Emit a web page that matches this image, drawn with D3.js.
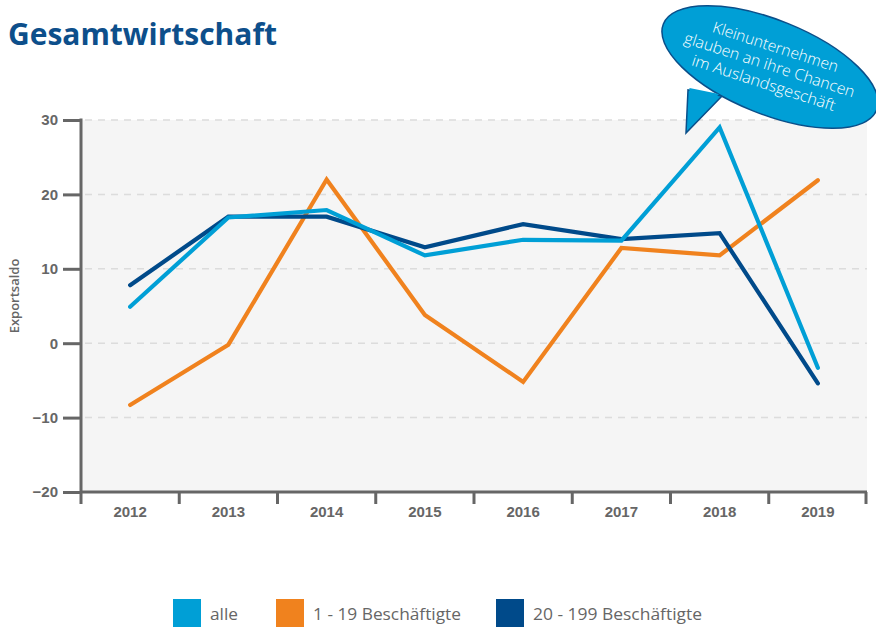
<!DOCTYPE html>
<html>
<head>
<meta charset="utf-8">
<script src="https://cdn.jsdelivr.net/npm/d3@7"></script>
<style>
  body { margin: 0; background: #fff; }
  svg { display: block; }
</style>
</head>
<body>
<div id="chart"></div>
<script>
// data
var years = [ '2012', '2013', '2014', '2015', '2016', '2017', '2018', '2019' ];
var alle = [ 4.9, 16.9, 17.9, 11.8, 13.9, 13.8, 29, -3.3 ];
var klein = [ -8.3, -0.2, 22, 3.8, -5.2, 12.8, 11.8, 21.9 ];
var mittel = [ 7.8, 17, 17, 12.9, 16, 14, 14.8, -5.4 ];
var yTicks = [ -20, -10, 0, 10, 20, 30 ];
var seriesNames = [ 'alle', '1 - 19 Beschäftigte', '20 - 199 Beschäftigte' ];
var seriesColors = [ '#009fd6', '#f0821e', '#004a8a' ];
var bubbleLines = [ 'Kleinunternehmen', 'glauben an ihre Chancen', 'im Auslandsgeschäft' ];

var W = 876, H = 627;
// note: "top" is taken by window.top, so plot edges get their own names
var plotL = 81, plotR = 867, plotT = 120, plotB = 492;
var axisCol = '#666666';

var svg = d3.select( '#chart' ).append( 'svg' )
	.attr( 'width', W )
	.attr( 'height', H )
	.style( 'font-family', '"Open Sans", sans-serif' );

var x = d3.scaleBand()
	.domain( years )
	.range( [ plotL, plotR ] );

var y = d3.scaleLinear()
	.domain( [ -20, 30 ] )
	.range( [ plotB, plotT ] );

// title
svg.append( 'text' )
	.attr( 'x', 8 )
	.attr( 'y', 45 )
	.attr( 'textLength', 269 )
	.attr( 'lengthAdjust', 'spacingAndGlyphs' )
	.text( 'Gesamtwirtschaft' )
	.attr( 'font-size', '31px' )
	.attr( 'font-weight', 'bold' )
	.attr( 'fill', '#0d4f8b' );

// plot background
svg.append( 'rect' )
	.attr( 'x', plotL )
	.attr( 'y', plotT )
	.attr( 'width', plotR - plotL )
	.attr( 'height', plotB - plotT )
	.attr( 'fill', '#f5f5f5' );

// grid
svg.selectAll( '.grid' )
	.data( yTicks.filter( function( d ) { return d > -20; } ) )
	.enter()
	.append( 'line' )
	.attr( 'class', 'grid' )
	.attr( 'x1', plotL + 4 )
	.attr( 'x2', plotR )
	.attr( 'y1', function( d ) { return y( d ); } )
	.attr( 'y2', function( d ) { return y( d ); } )
	.attr( 'stroke', '#dcdcdc' )
	.attr( 'stroke-width', 1.5 )
	.attr( 'stroke-dasharray', '7,6' );

// y axis
var yAxis = d3.axisLeft( y )
	.tickValues( yTicks )
	.tickSize( 18 )
	.tickPadding( 5 );

var gy = svg.append( 'g' )
	.attr( 'transform', 'translate(' + plotL + ',0)' )
	.call( yAxis );
gy.select( '.domain' ).remove();
gy.selectAll( '.tick line' ).attr( 'stroke', axisCol ).attr( 'stroke-width', 3 );
gy.selectAll( '.tick text' )
	.attr( 'fill', axisCol )
	.attr( 'font-size', '15px' )
	.attr( 'font-weight', 'bold' );
gy.append( 'line' )
	.attr( 'x1', 0 ).attr( 'x2', 0 )
	.attr( 'y1', plotT - 1.5 ).attr( 'y2', plotB + 12 )
	.attr( 'stroke', axisCol )
	.attr( 'stroke-width', 3 );

// x axis, labels centred in bands, ticks on band edges
var xAxis = d3.axisBottom( x )
	.tickSize( 0 )
	.tickPadding( 14 );

var gx = svg.append( 'g' )
	.attr( 'transform', 'translate(0,' + plotB + ')' )
	.call( xAxis );
gx.select( '.domain' ).remove();
gx.selectAll( '.tick text' )
	.attr( 'fill', axisCol )
	.attr( 'font-size', '15px' )
	.attr( 'font-weight', 'bold' );
gx.append( 'line' )
	.attr( 'x1', plotL ).attr( 'x2', plotR )
	.attr( 'stroke', axisCol )
	.attr( 'stroke-width', 3 );
gx.selectAll( '.edge' )
	.data( years.slice( 1 ).concat( [ null ] ) )
	.enter()
	.append( 'line' )
	.attr( 'class', 'edge' )
	.attr( 'x1', function( d ) { return d ? x( d ) : x.range()[ 1 ] - 1; } )
	.attr( 'x2', function( d ) { return d ? x( d ) : x.range()[ 1 ] - 1; } )
	.attr( 'y1', 0 )
	.attr( 'y2', 12 )
	.attr( 'stroke', axisCol )
	.attr( 'stroke-width', 3 );

// axis title
svg.append( 'text' )
	.attr( 'transform', 'translate(19,296) rotate(-90)' )
	.attr( 'text-anchor', 'middle' )
	.text( 'Exportsaldo' )
	.attr( 'font-size', '13px' )
	.attr( 'font-weight', 600 )
	.attr( 'fill', axisCol );

// lines
var line = d3.line()
	.x( function( d, i ) { return x( years[ i ] ) + x.bandwidth() / 2; } )
	.y( function( d ) { return y( d ); } );

var series = [ klein, mittel, alle ];
var seriesCol = [ seriesColors[ 1 ], seriesColors[ 2 ], seriesColors[ 0 ] ];

svg.selectAll( '.series' )
	.data( series )
	.enter()
	.append( 'path' )
	.attr( 'class', 'series' )
	.attr( 'd', line )
	.attr( 'fill', 'none' )
	.attr( 'stroke', function( d, i ) { return seriesCol[ i ]; } )
	.attr( 'stroke-width', 4.2 )
	.attr( 'stroke-linecap', 'round' )
	.attr( 'stroke-linejoin', 'miter' );

// speech bubble
var bubble = svg.append( 'g' );
bubble.append( 'path' )
	.attr( 'd', 'M688,90 L686,133 L722,96 Z' )
	.attr( 'fill', '#009fd6' )
	.attr( 'stroke', '#0a4f8a' )
	.attr( 'stroke-width', 1.5 );
bubble.append( 'ellipse' )
	.attr( 'transform', 'translate(770,67) rotate(22)' )
	.attr( 'rx', 115 )
	.attr( 'ry', 47 )
	.attr( 'fill', '#009fd6' )
	.attr( 'stroke', '#0a4f8a' )
	.attr( 'stroke-width', 1.5 );
// cover the ellipse outline where the tail joins
bubble.append( 'path' )
	.attr( 'd', 'M689.5,88 L688,128 L719,94 Z' )
	.attr( 'fill', '#009fd6' );

var bt = bubble.append( 'text' )
	.attr( 'transform', 'translate(768,70) rotate(18)' )
	.attr( 'text-anchor', 'middle' )
	.attr( 'fill', '#ffffff' )
	.attr( 'font-size', '15.5px' )
	.attr( 'font-weight', 300 );
var bubbleW = [ 131, 178, 150 ];
bt.selectAll( 'tspan' )
	.data( bubbleLines )
	.enter()
	.append( 'tspan' )
	.attr( 'x', 0 )
	.attr( 'y', function( d, i ) { return -19 + i * 19; } )
	.attr( 'textLength', function( d, i ) { return bubbleW[ i ]; } )
	.attr( 'lengthAdjust', 'spacingAndGlyphs' )
	.text( function( d ) { return d; } );

// legend
var legX = [ 173, 276, 496 ];
var legTextW = [ 28, 148, 169 ];
var leg = svg.selectAll( '.leg' )
	.data( seriesNames )
	.enter()
	.append( 'g' )
	.attr( 'class', 'leg' )
	.attr( 'transform', function( d, i ) { return 'translate(' + legX[ i ] + ',599)'; } );
leg.append( 'rect' )
	.attr( 'width', 28 )
	.attr( 'height', 28 )
	.attr( 'fill', function( d, i ) { return seriesColors[ i ]; } );
leg.append( 'text' )
	.attr( 'x', 37 )
	.attr( 'y', 21 )
	.attr( 'textLength', function( d, i ) { return legTextW[ i ]; } )
	.attr( 'lengthAdjust', 'spacingAndGlyphs' )
	.text( function( d ) { return d; } )
	.attr( 'font-size', '17px' )
	.attr( 'fill', axisCol );
</script>
</body>
</html>
